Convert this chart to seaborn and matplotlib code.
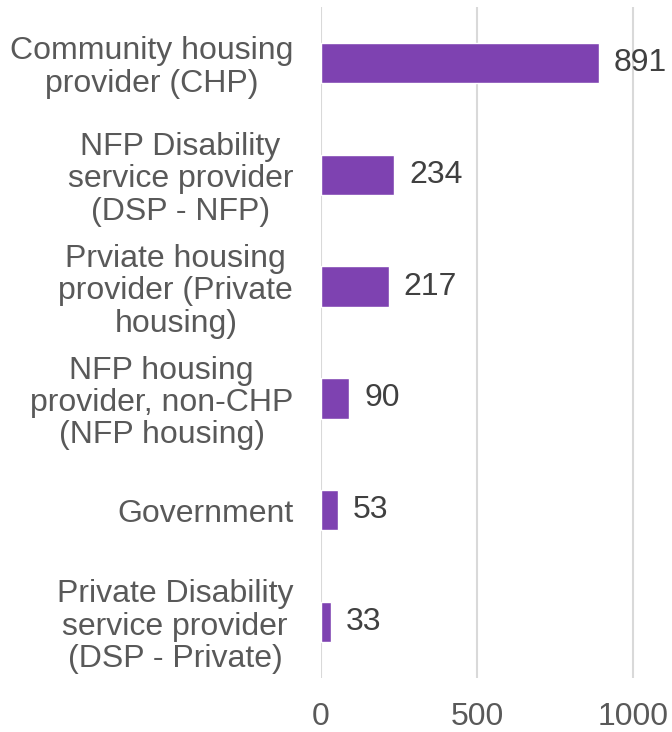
import matplotlib
matplotlib.use("Agg")
import matplotlib.pyplot as plt
import seaborn as sns
import pandas as pd

categories = [
    "Community housing\nprovider (CHP)",
    "NFP Disability\nservice provider\n(DSP - NFP)",
    "Prviate housing\nprovider (Private\nhousing)",
    "NFP housing\nprovider, non-CHP\n(NFP housing)",
    "Government",
    "Private Disability\nservice provider\n(DSP - Private)",
]
values = [891, 234, 217, 90, 53, 33]
xticks = [0, 500, 1000]

df = pd.DataFrame({"provider": categories, "count": values})

sns.set_style("white")
plt.rcParams["font.family"] = ["Liberation Sans", "DejaVu Sans"]

fig = plt.figure(figsize=(6.72, 7.32), dpi=100)
ax = fig.add_axes([321 / 672, 1 - 678 / 732, 1 - 321 / 672, 671 / 732])

sns.barplot(data=df, x="count", y="provider", orient="h", color="#7E42B1",
            width=0.36, saturation=1, ax=ax, zorder=3)

ax.set_xlim(0, 1125)
ax.set_ylim(5.5, -0.5)
ax.set_xticks(xticks)
ax.set_xticklabels([str(t) for t in xticks])
ax.grid(axis="x", color="#D9D9D9", linewidth=1.5, zorder=0)
ax.grid(axis="y", visible=False)
for s in ax.spines.values():
    s.set_visible(False)
ax.tick_params(axis="both", length=0, labelsize=23, labelcolor="#595959")
ax.tick_params(axis="x", pad=17)
ax.tick_params(axis="y", pad=20)
for lab in ax.get_yticklabels():
    lab.set_multialignment("center")
    lab.set_linespacing(1.1)
ax.set_xlabel("")
ax.set_ylabel("")

for i, v in enumerate(values):
    ax.text(v + 48, i, str(v), va="center", ha="left", fontsize=23,
            color="#404040", clip_on=False)

fig.savefig("out.png", dpi=100)
